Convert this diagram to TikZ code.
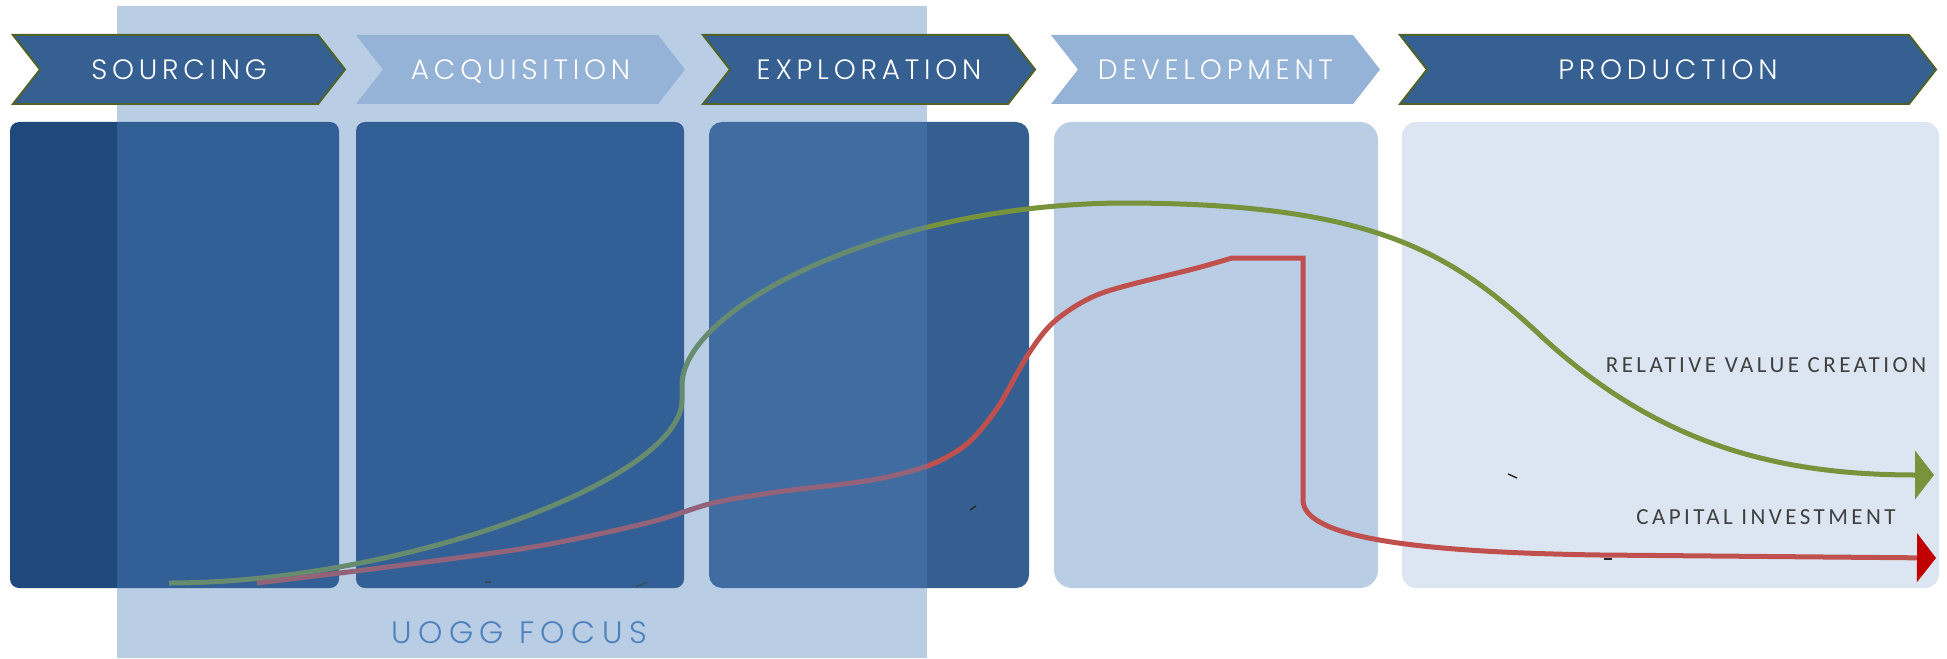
\documentclass[tikz,border=0pt]{standalone}
\usepackage{fontspec}
\usetikzlibrary{arrows.meta}
\newfontfamily\stagefont{Poppins Light}[LetterSpace=17]
\newfontfamily\focusfont{Poppins Light}[LetterSpace=21]
\newfontfamily\tagfont{Carlito}[LetterSpace=15]
\definecolor{stageblue}{HTML}{376092}
\definecolor{stageolive}{HTML}{4F6228}
\definecolor{stagesky}{HTML}{95B3D7}
\definecolor{panelnavy}{HTML}{1F497D}
\definecolor{panelsteel}{HTML}{365F91}
\definecolor{panelpale}{HTML}{B9CDE5}
\definecolor{panelmist}{HTML}{DCE6F2}
\definecolor{focusblue}{HTML}{4F81BD}
\definecolor{valuegreen}{HTML}{77933C}
\definecolor{capitalred}{HTML}{C0504D}
\definecolor{tipred}{HTML}{C00000}
\definecolor{labelgray}{HTML}{404040}

\begin{document}
\begin{tikzpicture}[x=0.5pt,y=-0.5pt,
        stagedark/.style={fill=stageblue, draw=stageolive, line width=1pt},
        stagelight/.style={fill=stagesky, draw=none},
        stagetext/.style={text=white, inner sep=0pt, anchor=base, font=\stagefont\fontsize{14}{14}\selectfont},
        focustext/.style={text=focusblue, inner sep=0pt, anchor=base, font=\focusfont\fontsize{15.5}{15.5}\selectfont},
        curvelabel/.style={text=labelgray, inner sep=0pt, anchor=base, font=\tagfont\fontsize{11.5}{11.5}\selectfont},
        value line/.style={draw=valuegreen, line width=2.5pt, -{Triangle[length=9.5pt,width=24pt]}},
        capital line/.style={draw=capitalred, line width=2.5pt, -{Triangle[length=9.5pt,width=24pt,color=tipred]}},
        speck/.style={draw=black!85, line width=.7pt}]
        \useasboundingbox (0,0) rectangle (1947,658);

        % panels under the stages
        \fill[panelnavy, rounded corners=4.5pt] (10,122)   rectangle (339,588);
        \fill[panelnavy, rounded corners=4.5pt] (356,122)  rectangle (684,588);
        \fill[panelsteel,rounded corners=6.5pt] (709,122)  rectangle (1029,588);
        \fill[panelpale, rounded corners=9pt]   (1054,122) rectangle (1378,588);
        \fill[panelmist, rounded corners=7pt]   (1402,122) rectangle (1939,588);

        % the two curves
        \draw[value line] (169,583) .. controls (400,583) and (682,480) .. (682,400) -- (682,385)
          .. controls (682,310) and (880,205) .. (1121,203)
          .. controls (1371,203) and (1450,251) .. (1540,335)
          .. controls (1661,448) and (1784,475) .. (1934,475);
        \draw[capital line] plot[smooth] coordinates {(257,583) (380,568) (533,547) (647,523) (713,503)
          (777,492) (872,480) (930,465) (968,443) (998,407) (1029,353) (1056,320) (1102,293)
          (1197,268) (1232,258)} -- (1303,258) -- (1303,500)
          .. controls (1303,535) and (1400,552) .. (1600,555) -- (1936,558);

        % stray marks
        \draw[speck] (485,582) -- (491,582);
        \draw[speck] (636,586) -- (641,585) -- (647,582);
        \draw[speck] (970,510) -- (976,506);
        \draw[speck] (1508,474) -- (1517,478);
        \draw[speck] (1604,559) -- (1612,559);

        % focus band
        \fill[focusblue, fill opacity=.4] (117,6) rectangle (927,658);
        \node[focustext] (focus) at (519,643) {UOGG FOCUS};

        % stage chevrons
        \foreach \l/\r/\s/\t/\n in {13/345/stagedark/SOURCING/sourcing,
                                    356/685/stagelight/ACQUISITION/acquisition,
                                    703/1035/stagedark/EXPLORATION/exploration,
                                    1051/1380/stagelight/DEVELOPMENT/development,
                                    1400/1936/stagedark/PRODUCTION/production}{
          \draw[\s] (\l,35) -- (\r-27,35) -- (\r,69.5) -- (\r-27,104) -- (\l,104) -- (\l+27,69.5) -- cycle;
          \node[stagetext] (\n) at ({(\l+\r)/2},80) {\t};
        }

        \node[curvelabel] (value) at (1766,372) {RELATIVE VALUE CREATION};
        \node[curvelabel] (capital) at (1766,524) {CAPITAL INVESTMENT};
      \end{tikzpicture}
\end{document}
